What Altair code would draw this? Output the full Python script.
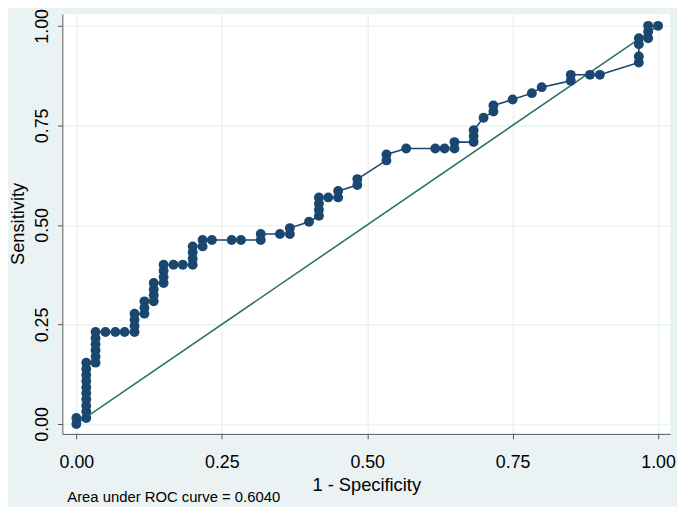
import altair as alt
import pandas as pd

# ROC curve points: 1 - Specificity, Sensitivity
fpr = [0.000, 0.000,
       0.017, 0.017, 0.017, 0.017, 0.017, 0.017, 0.017, 0.017, 0.017, 0.017,
       0.033, 0.033, 0.033, 0.033, 0.033, 0.033,
       0.050, 0.067, 0.083, 0.100, 0.100, 0.100, 0.100,
       0.117, 0.117, 0.117,
       0.133, 0.133, 0.133, 0.133,
       0.150, 0.150, 0.150, 0.150,
       0.167, 0.183,
       0.200, 0.200, 0.200, 0.200,
       0.217, 0.217,
       0.233, 0.267, 0.283,
       0.317, 0.317,
       0.350,
       0.367, 0.367,
       0.400,
       0.417, 0.417, 0.417, 0.417,
       0.433,
       0.450, 0.450,
       0.483, 0.483,
       0.533, 0.533,
       0.567, 0.617, 0.633,
       0.650, 0.650,
       0.683, 0.683, 0.683,
       0.700,
       0.717, 0.717,
       0.750, 0.783, 0.800,
       0.850, 0.850,
       0.883, 0.900,
       0.967, 0.967, 0.967, 0.967,
       0.983, 0.983, 0.983,
       1.000]
tpr = [0.000, 0.015,
       0.015, 0.031, 0.046, 0.062, 0.077, 0.092, 0.108, 0.123, 0.138, 0.154,
       0.154, 0.169, 0.185, 0.200, 0.215, 0.231,
       0.231, 0.231, 0.231, 0.231, 0.246, 0.262, 0.277,
       0.277, 0.292, 0.308,
       0.308, 0.323, 0.338, 0.354,
       0.354, 0.369, 0.385, 0.400,
       0.400, 0.400,
       0.400, 0.415, 0.431, 0.446,
       0.446, 0.462,
       0.462, 0.462, 0.462,
       0.462, 0.477,
       0.477,
       0.477, 0.492,
       0.508,
       0.523, 0.538, 0.554, 0.569,
       0.569,
       0.569, 0.585,
       0.600, 0.615,
       0.662, 0.677,
       0.692, 0.692, 0.692,
       0.692, 0.708,
       0.708, 0.723, 0.738,
       0.769,
       0.785, 0.800,
       0.815, 0.831, 0.846,
       0.862, 0.877,
       0.877, 0.877,
       0.908, 0.923, 0.954, 0.969,
       0.969, 0.985, 1.000,
       1.000]
order = list(range(len(fpr)))

ref_x = [0.0, 1.0]
ref_y = [0.0, 1.0]

tick_vals = [0.0, 0.25, 0.5, 0.75, 1.0]
note = "Area under ROC curve = 0.6040"

roc = pd.DataFrame({"fpr": fpr, "tpr": tpr, "order": order})
ref = pd.DataFrame({"fpr": ref_x, "tpr": ref_y})

NAVY = "#1A476F"
GREEN = "#2E7466"
BG = "#EAF2F3"
FONT = "Liberation Sans"

xscale = alt.Scale(domain=[-0.0241, 1.0207], nice=False, zero=False)
yscale = alt.Scale(domain=[-0.025, 1.03], nice=False, zero=False)

xaxis = alt.Axis(values=tick_vals, format=".2f", title="1 - Specificity",
                 grid=True, gridColor=BG, gridWidth=1.5,
                 domainColor="#555555", tickColor="#555555", tickSize=5,
                 labelFontSize=18, labelFont=FONT, labelColor="#000000",
                 labelPadding=15, titleFontSize=18.5, titleFont=FONT,
                 titleFontWeight="normal", titleColor="#000000",
                 titleY=51, titleBaseline="middle", labelFlush=False)
yaxis = alt.Axis(values=tick_vals, format=".2f", title="Sensitivity",
                 grid=True, gridColor=BG, gridWidth=1.5,
                 domainColor="#555555", tickColor="#555555", tickSize=5,
                 labelFontSize=18, labelFont=FONT, labelColor="#000000",
                 labelAngle=270, labelAlign="center", labelBaseline="bottom",
                 labelPadding=6, titleFontSize=18.5, titleFont=FONT,
                 titleFontWeight="normal", titleColor="#000000",
                 titleAngle=270, titleX=-45, titleY=212,
                 titleBaseline="middle", titleAlign="center", labelFlush=False)

refline = alt.Chart(ref).mark_line(color=GREEN, strokeWidth=1.6).encode(
    x=alt.X("fpr:Q", scale=xscale, axis=xaxis),
    y=alt.Y("tpr:Q", scale=yscale, axis=yaxis),
)

rocline = alt.Chart(roc).mark_line(color=NAVY, strokeWidth=1.6).encode(
    x=alt.X("fpr:Q", scale=xscale),
    y=alt.Y("tpr:Q", scale=yscale),
    order="order:Q",
)

pts = alt.Chart(roc).mark_circle(color=NAVY, opacity=1, size=100).encode(
    x=alt.X("fpr:Q", scale=xscale),
    y=alt.Y("tpr:Q", scale=yscale),
)

notetext = alt.Chart(pd.DataFrame({"t": [note]})).mark_text(
    align="left", baseline="middle", fontSize=15, font=FONT, color="#000000"
).encode(x=alt.value(5), y=alt.value(489), text="t:N")

chart = alt.layer(refline, rocline, pts, notetext).properties(
    width=615, height=425,
    background=BG,
    padding={"left": 55, "top": 3, "right": 7, "bottom": 71},
    autosize=alt.AutoSizeParams(type="none"),
).configure_view(fill="white", stroke=None)

chart.save("out.html", embed_options={"renderer": "svg", "actions": False})
